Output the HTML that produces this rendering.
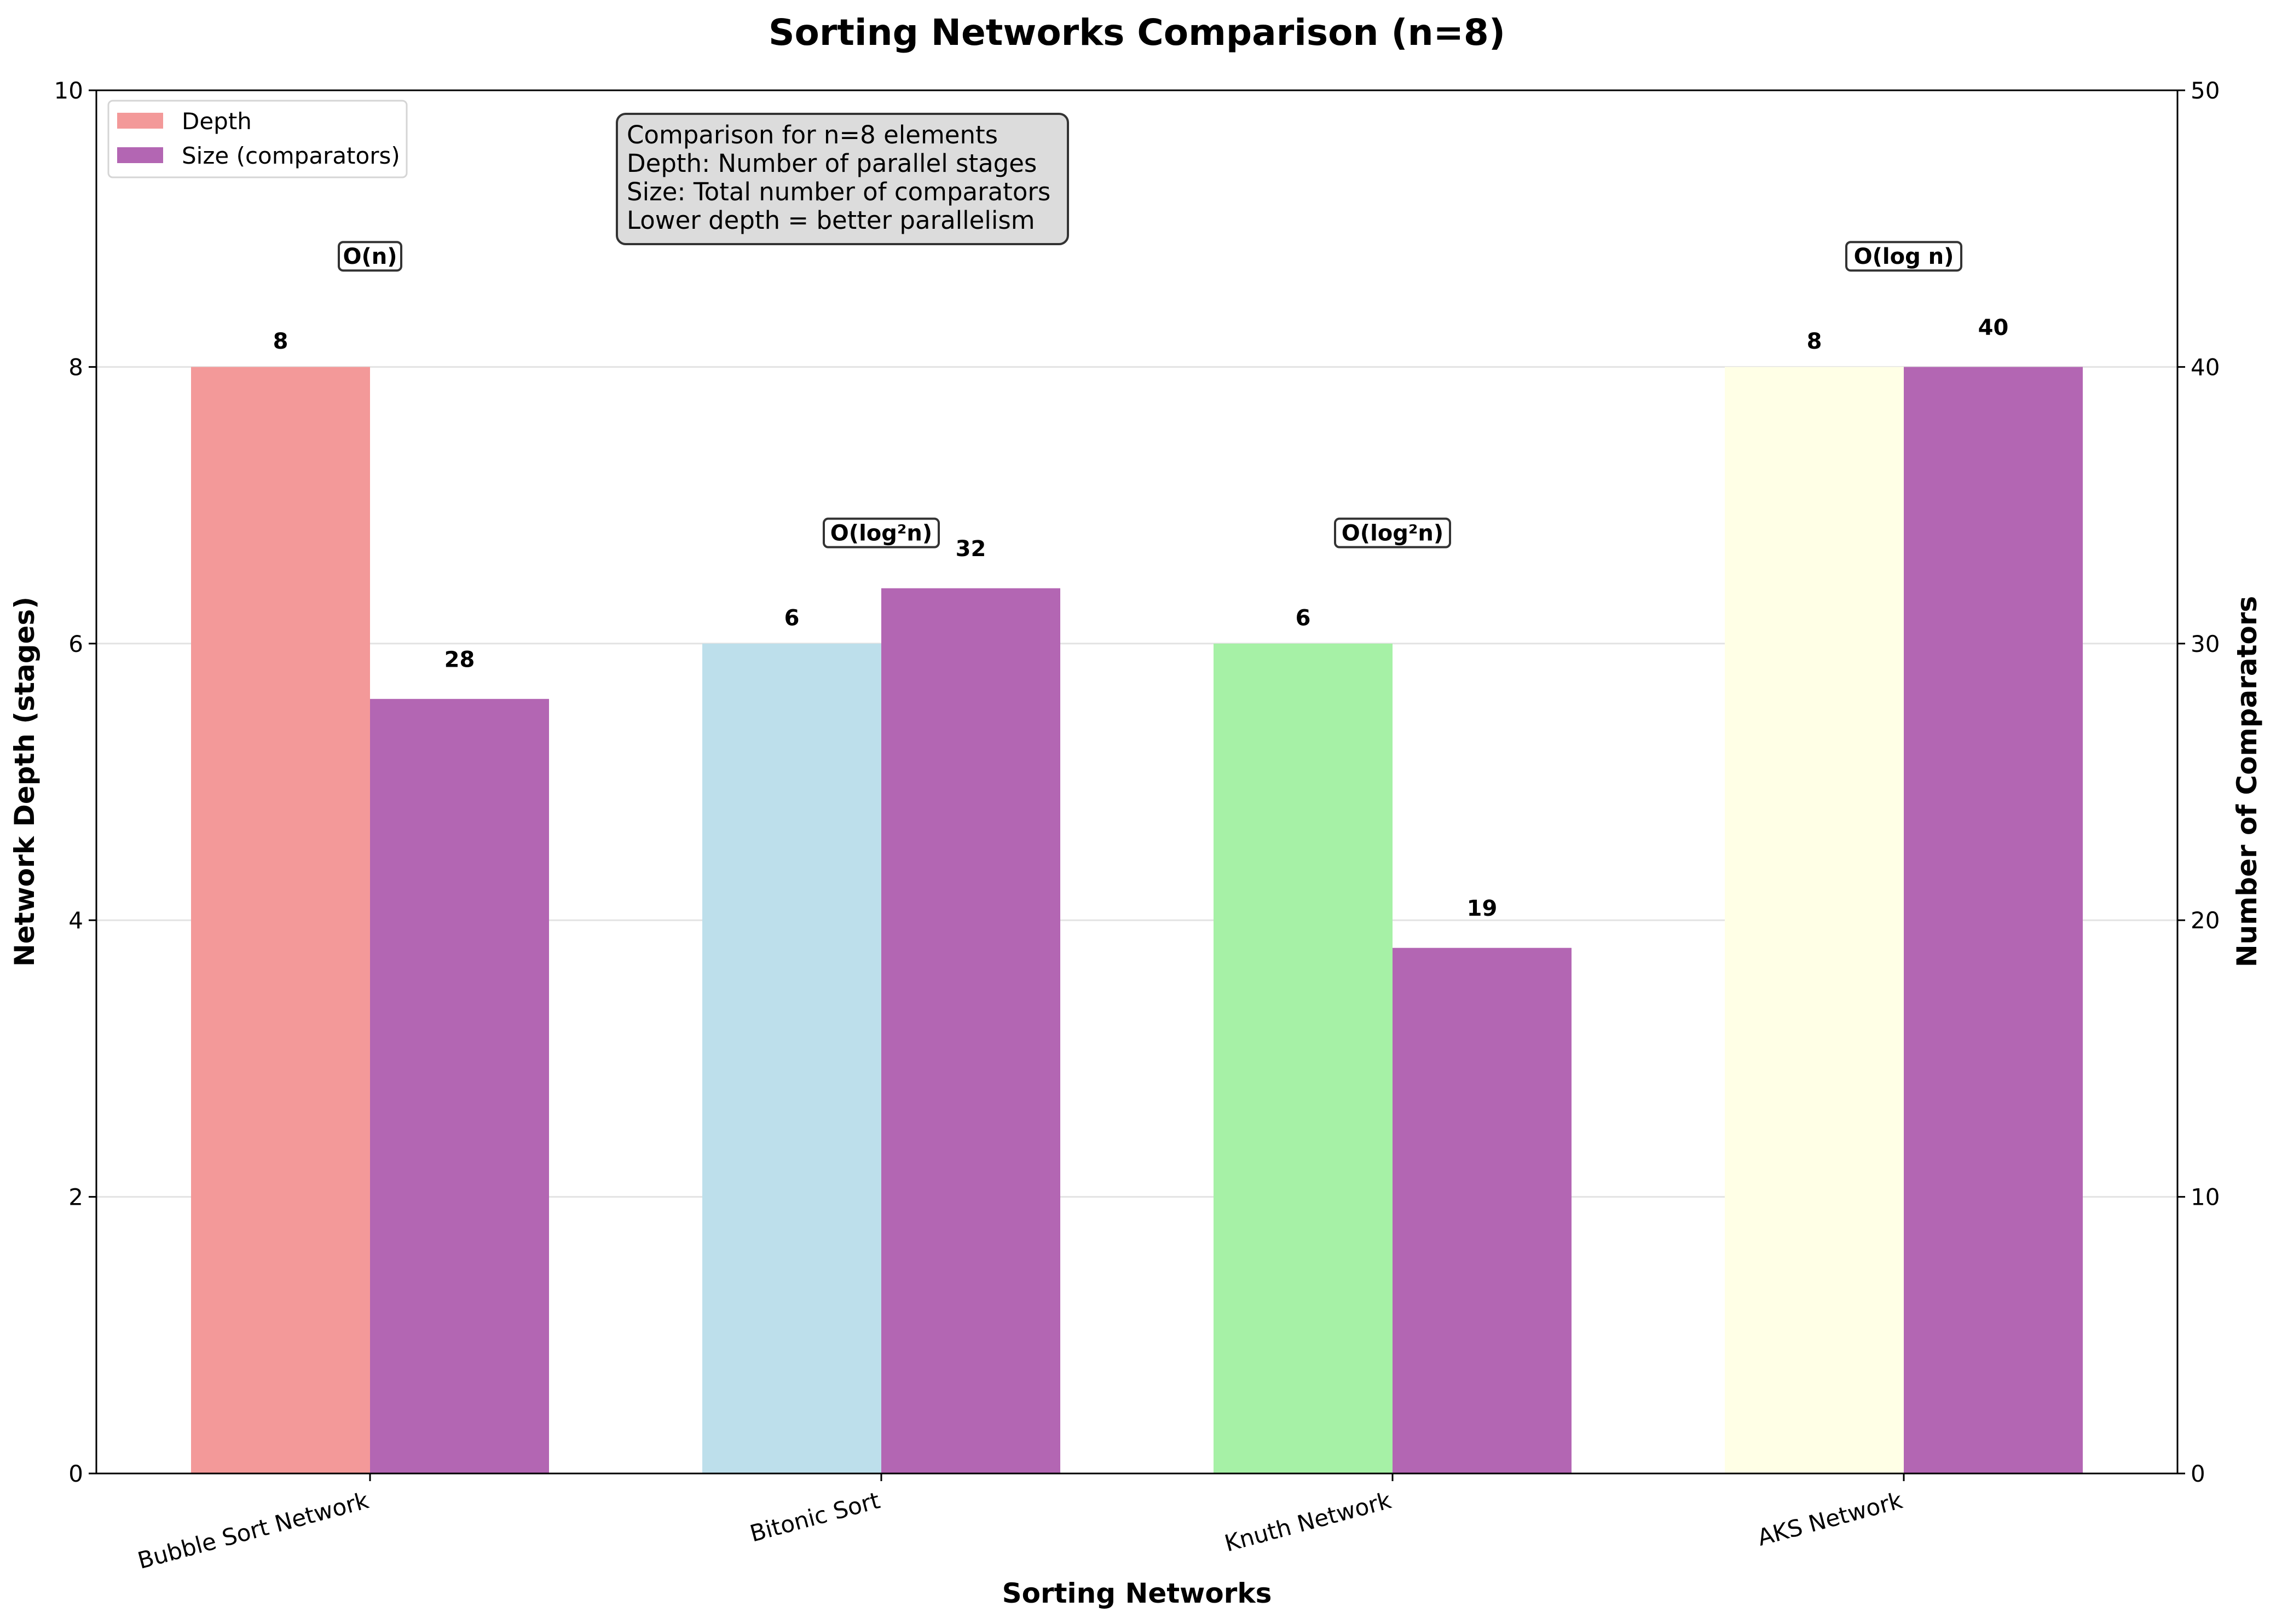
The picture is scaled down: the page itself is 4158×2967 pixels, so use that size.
<!DOCTYPE html>
<html><head><meta charset="utf-8">
<style>
html,body{margin:0;padding:0;background:#fff;}
svg{display:block;font-family:"DejaVu Sans","Liberation Sans",sans-serif;}
</style></head>
<body>
<svg id="chart" width="4158" height="2967" viewBox="0 0 4158 2967" xmlns="http://www.w3.org/2000/svg">
<rect width="4158" height="2967" fill="#fff"/>
<g id="grid"></g>
<g id="bars"></g>
<g id="labels"></g>
<g id="axes"></g>
<text x="2077" y="82" font-size="66" font-weight="bold" text-anchor="middle">Sorting Networks Comparison (n=8)</text>
<text x="2077" y="2928" font-size="50" font-weight="bold" text-anchor="middle">Sorting Networks</text>
<text transform="translate(62,1428) rotate(-90)" font-size="50" font-weight="bold" text-anchor="middle">Network Depth (stages)</text>
<text transform="translate(4122,1428) rotate(-90)" font-size="50" font-weight="bold" text-anchor="middle">Number of Comparators</text>
<g>
<rect x="198" y="184" width="545" height="140" rx="8" fill="#fff" fill-opacity="0.8" stroke="#d5d5d5" stroke-width="3"/>
<rect x="214" y="206" width="84" height="29" fill="#f39999"/>
<text x="332" y="236" font-size="42">Depth</text>
<rect x="214" y="269" width="84" height="29" fill="#b366b3"/>
<text x="332" y="299" font-size="42">Size (comparators)</text>
</g>
<g>
<rect x="1127" y="208" width="824" height="238" rx="16" fill="#dcdcdc" stroke="#333" stroke-width="4"/>
<text font-size="45">
<tspan x="1145" y="262">Comparison for n=8 elements</tspan>
<tspan x="1145" y="314">Depth: Number of parallel stages</tspan>
<tspan x="1145" y="366">Size: Total number of comparators</tspan>
<tspan x="1145" y="418">Lower depth = better parallelism</tspan>
</text>
</g>
</svg>
<script>
const categories = ["Bubble Sort Network","Bitonic Sort","Knuth Network","AKS Network"];
const depthValues = [8,6,6,8];
const sizeValues = [28,32,19,40];
const complexityLabels = ["O(n)","O(log²n)","O(log²n)","O(log n)"];
const depthTicks = [0,2,4,6,8,10];
const sizeTicks = [0,10,20,30,40,50];
const depthColors = ["#f39999","#bddfeb","#a6f1a6","#ffffe6"];

const NS="http://www.w3.org/2000/svg";
const L=176,R=3978,T=165,B=2692;
const depthMax=10,sizeMax=50;
const xPos=i=>676+934*i;
const barW=327;
const yD=v=>B-(v/depthMax)*(B-T);
const yS=v=>B-(v/sizeMax)*(B-T);
function mk(tag,attrs,parent){const e=document.createElementNS(NS,tag);for(const k in attrs)e.setAttribute(k,attrs[k]);parent.appendChild(e);return e;}
const grid=document.getElementById('grid'),bars=document.getElementById('bars'),labels=document.getElementById('labels'),axes=document.getElementById('axes');

depthTicks.forEach(t=>{
  if(t===0||t===depthMax)return;
  const g=mk('line',{x1:L,x2:R,y1:yD(t),y2:yD(t),stroke:'#e3e3e3','stroke-width':3},grid);
  
  
});

categories.forEach((c,i)=>{
  const x=xPos(i);
  const d=mk('rect',{x:x-barW,y:yD(depthValues[i]),width:barW,height:B-yD(depthValues[i]),fill:depthColors[i]},bars);
  
  
  const s=mk('rect',{x:x,y:yS(sizeValues[i]),width:barW,height:B-yS(sizeValues[i]),fill:'#b366b3'},bars);
  
  
  const dl=mk('text',{x:x-barW/2,y:yD(depthValues[i]+0.1)-8,'font-size':40,'font-weight':'bold','text-anchor':'middle'},labels);
  dl.textContent=depthValues[i];
  
  
  const sl=mk('text',{x:x+barW/2,y:yS(sizeValues[i]+1)-8,'font-size':40,'font-weight':'bold','text-anchor':'middle'},labels);
  sl.textContent=sizeValues[i];
  
  
  const cy=yD(depthValues[i]+0.8);
  const cw=complexityLabels[i].length*24+18;
  const cb=mk('rect',{x:x-cw/2,y:cy-26,width:cw,height:52,rx:8,fill:'#fff',stroke:'#333','stroke-width':4},labels);
  
  
  const ct=mk('text',{x:x,y:cy+14,'font-size':40,'font-weight':'bold','text-anchor':'middle'},labels);
  ct.textContent=complexityLabels[i];
  
  
  const tk=mk('line',{x1:x,x2:x,y1:B,y2:B+14,stroke:'#000','stroke-width':3},axes);
  
  
  const tl=mk('text',{transform:`translate(${x},${B+62}) rotate(-15)`,'font-size':42,'text-anchor':'end'},axes);
  tl.textContent=c;
  
  
});

depthTicks.forEach(t=>{
  const y=yD(t);
  const l=mk('line',{x1:L-14,x2:L,y1:y,y2:y,stroke:'#000','stroke-width':3},axes);
  
  
  const tx=mk('text',{x:L-24,y:y+15,'font-size':42,'text-anchor':'end'},axes);
  tx.textContent=t;
  
  
});
sizeTicks.forEach(t=>{
  const y=yS(t);
  const l=mk('line',{x1:R,x2:R+14,y1:y,y2:y,stroke:'#000','stroke-width':3},axes);
  
  
  const tx=mk('text',{x:R+24,y:y+15,'font-size':42,'text-anchor':'start'},axes);
  tx.textContent=t;
  
  
});
const frame=mk('rect',{x:L,y:T,width:R-L,height:B-T,fill:'none',stroke:'#000','stroke-width':3},axes);


</script>
</body></html>
